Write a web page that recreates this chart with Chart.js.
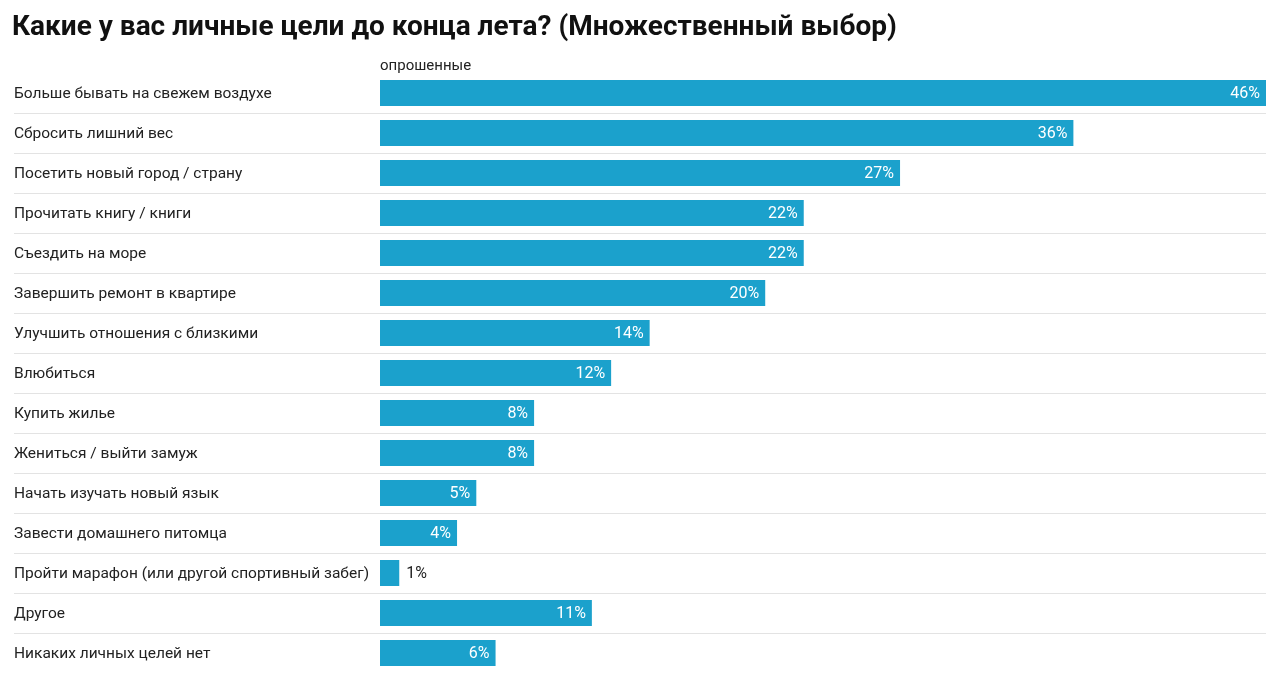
<!DOCTYPE html>
<html>
<head>
<meta charset="utf-8">
<script src="https://cdn.jsdelivr.net/npm/chart.js@4/dist/chart.umd.min.js"></script>
<style>
html,body{margin:0;padding:0;background:#fff;}
#wrap{position:relative;width:1280px;height:683px;}
</style>
</head>
<body>
<div id="wrap"><canvas id="c" width="1280" height="683"></canvas></div>
<script>
const titleText = "Какие у вас личные цели до конца лета? (Множественный выбор)";
const seriesName = "опрошенные";
const categories = [
  "Больше бывать на свежем воздухе",
  "Сбросить лишний вес",
  "Посетить новый город / страну",
  "Прочитать книгу / книги",
  "Съездить на море",
  "Завершить ремонт в квартире",
  "Улучшить отношения с близкими",
  "Влюбиться",
  "Купить жилье",
  "Жениться / выйти замуж",
  "Начать изучать новый язык",
  "Завести домашнего питомца",
  "Пройти марафон (или другой спортивный забег)",
  "Другое",
  "Никаких личных целей нет"
];
const values = [46, 36, 27, 22, 22, 20, 14, 12, 8, 8, 5, 4, 1, 11, 6];

const FONT = "Roboto, 'Noto Sans', sans-serif";

const headerPlugin = {
  id: 'header',
  afterDraw(chart) {
    const ctx = chart.ctx;
    ctx.save();
    ctx.fillStyle = '#111';
    ctx.font = "bold 28px " + FONT;
    ctx.textAlign = 'left';
    ctx.textBaseline = 'middle';
    ctx.fillText(titleText, 12, 28);
    ctx.fillStyle = '#222';
    ctx.font = "15px " + FONT;
    ctx.fillText(seriesName, chart.chartArea.left, 66);
    ctx.restore();
  }
};

const valueLabels = {
  id: 'valueLabels',
  afterDatasetsDraw(chart) {
    const ctx = chart.ctx;
    const meta = chart.getDatasetMeta(0);
    ctx.save();
    ctx.font = "16px " + FONT;
    ctx.textBaseline = 'middle';
    meta.data.forEach((bar, i) => {
      const txt = values[i] + '%';
      const w = ctx.measureText(txt).width;
      const barW = bar.x - bar.base;
      if (barW > w + 12) {
        ctx.fillStyle = '#fff';
        ctx.textAlign = 'right';
        ctx.fillText(txt, bar.x - 6, bar.y + 1);
      } else {
        ctx.fillStyle = '#222';
        ctx.textAlign = 'left';
        ctx.fillText(txt, bar.x + 7, bar.y + 1);
      }
    });
    ctx.restore();
  }
};

new Chart(document.getElementById('c'), {
  type: 'bar',
  data: {
    labels: categories,
    datasets: [{
      label: seriesName,
      data: values,
      backgroundColor: '#1ba1cc',
      borderWidth: 0,
      barPercentage: 0.65,
      categoryPercentage: 1.0
    }]
  },
  options: {
    indexAxis: 'y',
    responsive: false,
    animation: false,
    devicePixelRatio: 1,
    layout: { padding: { left: 14, right: 14, top: 73, bottom: 10 } },
    plugins: {
      legend: { display: false },
      tooltip: { enabled: false },
      title: { display: false }
    },
    scales: {
      x: {
        display: false,
        min: 0,
        max: 46
      },
      y: {
        border: { display: false },
        grid: {
          offset: true,
          drawTicks: true,
          tickLength: 366,
          lineWidth: 1,
          color: (c) => (c.index === 0 || c.index === undefined) ? 'rgba(0,0,0,0)' : '#e3e3e3'
        },
        ticks: {
          crossAlign: 'far',
          padding: 0,
          labelOffset: 1,
          color: '#222',
          font: { family: FONT, size: 15.5 }
        },
        afterFit(scale) { scale.width = 366; }
      }
    }
  },
  plugins: [headerPlugin, valueLabels]
});
</script>
</body>
</html>
